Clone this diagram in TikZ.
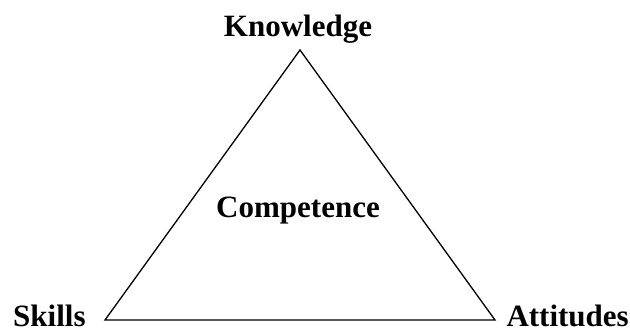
\documentclass[tikz,border=0pt]{standalone}
\usepackage{fontspec}
\setmainfont{Liberation Serif}
\begin{document}
\begin{tikzpicture}[x=1pt,y=-1pt,
  lab/.style={font=\fontsize{31}{36}\selectfont\bfseries, inner sep=0pt, anchor=base}]
\useasboundingbox (0,0) rectangle (630,334);
\coordinate (top) at (300,50);
\coordinate (bl) at (105,320);
\coordinate (br) at (495,320);
\draw[line width=1.3pt, line join=miter] (top) -- (bl) -- (br) -- cycle;
\node[lab] (k) at (298,37) {Knowledge};
\node[lab, anchor=base west] (s) at (13,326) {Skills};
\node[lab, anchor=base east] (a) at (629,326) {Attitudes};
\node[lab] (c) at (298,218) {Competence};
\end{tikzpicture}
\end{document}
